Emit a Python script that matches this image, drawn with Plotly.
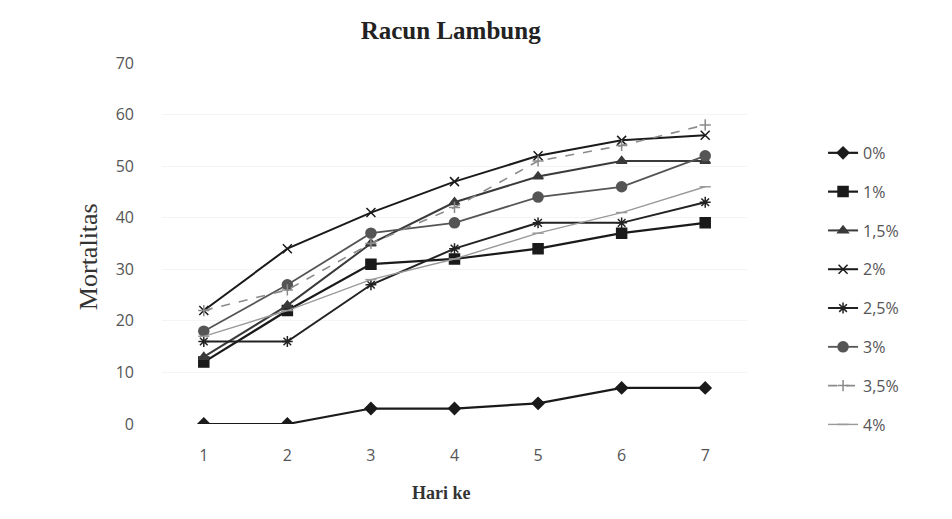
import plotly.graph_objects as go

days = [1, 2, 3, 4, 5, 6, 7]
day_labels = ["1", "2", "3", "4", "5", "6", "7"]

s0 = [0, 0, 3, 3, 4, 7, 7]
s1 = [12, 22, 31, 32, 34, 37, 39]
s15 = [13, 23, 35, 43, 48, 51, 51]
s2 = [22, 34, 41, 47, 52, 55, 56]
s25 = [16, 16, 27, 34, 39, 39, 43]
s3 = [18, 27, 37, 39, 44, 46, 52]
s35 = [22, 26, 35, 42, 51, 54, 58]
s4 = [17, 22, 28, 32, 37, 41, 46]

series = [
    ("0%", s0, "#1a1a1a", "diamond", 9, "solid", 2.2),
    ("1%", s1, "#1a1a1a", "square", 10, "solid", 2.2),
    ("1,5%", s15, "#3a3a3a", "triangle-up", 9, "solid", 2),
    ("2%", s2, "#1a1a1a", "x-thin-open", 9, "solid", 2),
    ("2,5%", s25, "#222222", "asterisk-open", 9, "solid", 2),
    ("3%", s3, "#555555", "circle", 10, "solid", 1.8),
    ("3,5%", s35, "#8a8a8a", "cross-thin-open", 8, "dash", 1.6),
    ("4%", s4, "#9a9a9a", "line-ew-open", 8, "solid", 1.4),
]

fig = go.Figure()
for i, (name, vals, col, sym, sz, dash, w) in enumerate(series):
    fig.add_trace(go.Scatter(
        x=days, y=vals, name=name, mode="lines+markers",
        legendgroup=f"g{i}",
        line=dict(color=col, width=w, dash=dash),
        marker=dict(symbol=sym, size=sz, color=col,
                    line=dict(color=col, width=1.5)),
    ))

fig.update_layout(
    width=952, height=519,
    paper_bgcolor="white", plot_bgcolor="white",
    margin=dict(l=154, r=213, t=55, b=103),
    title=dict(text="<b>Racun Lambung</b>", x=0.465, xanchor="center",
               y=0.958, yanchor="middle",
               font=dict(family="Liberation Serif", size=25, color="#222")),
    xaxis=dict(range=[0.5, 7.5], tickvals=days, ticktext=day_labels,
               showgrid=False, zeroline=False, showline=False,
               ticklabelstandoff=20,
               tickfont=dict(family="Open Sans", size=16, color="#555")),
    yaxis=dict(range=[0, 70], dtick=10, showgrid=True, gridcolor="#f4f4f4",
               zeroline=False, showline=False, ticks="",
               tickfont=dict(family="Open Sans", size=16, color="#555"),
               ticklabelstandoff=27),
    legend=dict(x=1.130, xanchor="left", y=0.798, yanchor="top",
                tracegroupgap=15,
                font=dict(family="Open Sans", size=16, color="#555"),
                bgcolor="rgba(0,0,0,0)"),
    showlegend=True,
    annotations=[
        dict(text="Mortalitas", xref="paper", yref="paper", x=-0.1265, y=0.465,
             xanchor="center", yanchor="middle", textangle=-90, showarrow=False,
             font=dict(family="Liberation Serif", size=26, color="#333")),
        dict(text="<b>Hari ke</b>", xref="paper", yref="paper", x=0.477, y=-0.191,
             xanchor="center", yanchor="middle", showarrow=False,
             font=dict(family="Liberation Serif", size=18, color="#333")),
    ],
)
fig.write_html("out.html")
